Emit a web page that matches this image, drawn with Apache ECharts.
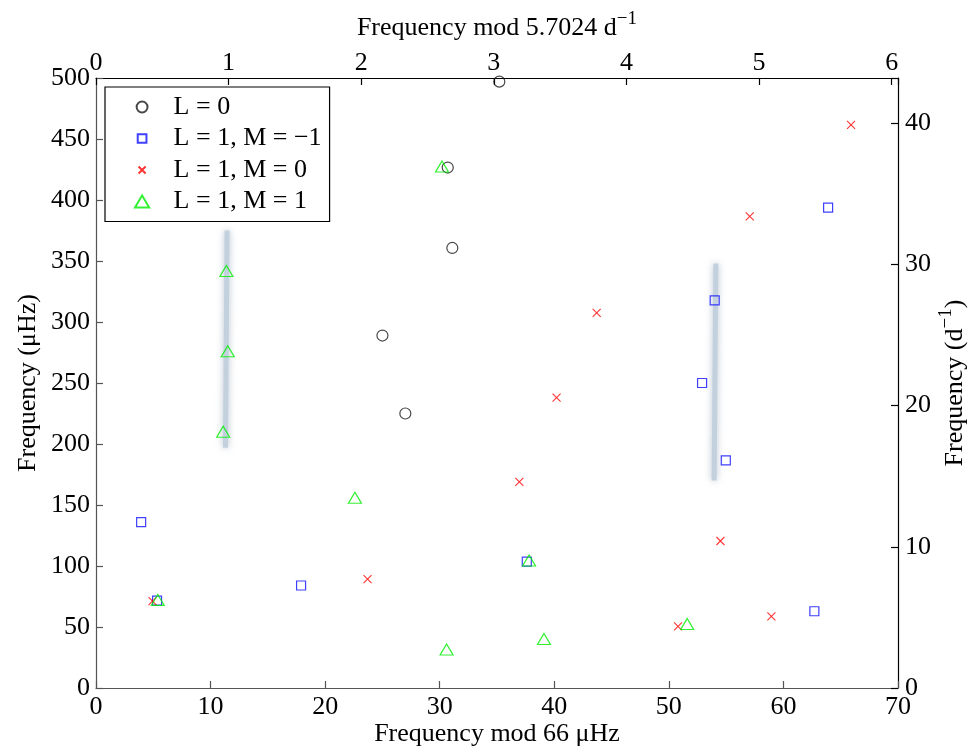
<!DOCTYPE html>
<html>
<head>
<meta charset="utf-8">
<script src="https://cdn.jsdelivr.net/npm/echarts@6/dist/echarts.min.js"></script>
<style>
html,body{margin:0;padding:0;background:#fff;}
#chart{width:976px;height:749px;}
</style>
</head>
<body>
<div id="chart"></div>
<script>
// ---- data ----
const seriesNames = ['L = 0', 'L = 1, M = \u22121', 'L = 1, M = 0', 'L = 1, M = 1'];

const l0_x = [35.2, 30.7, 31.1, 25.0, 27.0];
const l0_y = [497, 426.6, 360.7, 288.9, 225];

const mNeg1_x = [3.94, 5.33, 17.9, 37.6, 54.0, 52.9, 54.97, 62.7, 63.9];
const mNeg1_y = [136, 71.6, 84, 103.6, 317.8, 250, 186.6, 62.9, 393.8];

const m0_x = [4.93, 23.7, 36.95, 40.2, 43.7, 57.06, 65.9, 54.5, 58.95, 50.8];
const m0_y = [71.3, 89.3, 168.9, 238, 307.4, 386.6, 461.5, 120.5, 58.8, 50.6];

const mPos1_x = [5.39, 11.1, 11.5, 11.38, 22.6, 30.2, 37.8, 30.6, 39.1, 51.6];
const mPos1_y = [72.2, 210, 276, 341.8, 156, 427.4, 104.5, 31.5, 40.2, 52.5];

// shaded guide bands (x, y endpoints in µHz)
const band1_x = [11.44, 11.3];
const band1_y = [375, 197];
const band2_x = [54.1, 53.95];
const band2_y = [348, 170];

// axis ranges / ticks
const bottomTicks = [0, 10, 20, 30, 40, 50, 60, 70];
const leftTicks = [0, 50, 100, 150, 200, 250, 300, 350, 400, 450, 500];
const topTicks = [0, 1, 2, 3, 4, 5, 6];
const rightTicks = [0, 10, 20, 30, 40];
const uHzToPerDay = 0.0864;

function zip(xs, ys) { return xs.map((x, i) => [x, ys[i]]); }

const FONT = 'Liberation Serif';
const fs = 26;

const chart = echarts.init(document.getElementById('chart'), null, {renderer: 'canvas'});

function intFmt(ticks) {
  return function (v) {
    for (const t of ticks) { if (Math.abs(v - t) < 1e-6) return String(t); }
    return '';
  };
}

// legend icon shapes (padded so they draw at the reference size)
const iconCircle = 'path://M5,0A5,5,0,1,1,4.99,0Z M-0.5,-0.5 M10.5,10.5';
const iconSquare = 'path://M1,1L9,1L9,9L1,9Z M-0.5,-0.5 M10.5,10.5';
const iconCross = 'path://M2,2L9,9M9,2L2,9 M-0.5,-0.5 M11.5,11.5';
const iconTri = 'path://M6.5,0L13,11L0,11Z';

const supRich = {
  base: {fontFamily: FONT, fontSize: fs, color: '#000', lineHeight: 30},
  sup: {fontFamily: FONT, fontSize: 19, color: '#000', lineHeight: 30, padding: [0, 0, 18, 0]}
};

const option = {
  backgroundColor: '#fff',
  animation: false,
  textStyle: {fontFamily: FONT},
  grid: {left: 96, right: 78, top: 78, bottom: 61, containLabel: false, outerBoundsMode: 'none'},
  legend: {
    data: [
      {name: seriesNames[0], icon: iconCircle},
      {name: seriesNames[1], icon: iconSquare},
      {name: seriesNames[2], icon: iconCross},
      {name: seriesNames[3], icon: iconTri}
    ],
    orient: 'vertical',
    left: 105,
    top: 87,
    padding: [7, 8, 7, 29],
    itemWidth: 53,
    itemHeight: 12,
    itemGap: 5.5,
    borderColor: '#000',
    borderWidth: 1.2,
    backgroundColor: '#fff',
    textStyle: {fontFamily: FONT, fontSize: fs, color: '#000', lineHeight: 26},
    z: 10
  },
  xAxis: [
    {
      type: 'value', position: 'bottom', min: 0, max: 70, interval: 10,
      name: 'Frequency mod 66 \u03bcHz', nameLocation: 'middle', nameGap: 33, nameMoveOverlap: false,
      nameTextStyle: {fontFamily: FONT, fontSize: fs, color: '#000'},
      axisLine: {show: true, onZero: false, lineStyle: {color: '#555', width: 1.2}},
      axisTick: {show: true, inside: true, length: 7, lineStyle: {color: '#555', width: 1.2}},
      axisLabel: {fontFamily: FONT, fontSize: fs, color: '#000', margin: 6, formatter: intFmt(bottomTicks)},
      splitLine: {show: false}
    },
    {
      type: 'value', position: 'top', min: 0, max: 70 * uHzToPerDay, interval: 1,
      name: '{base|Frequency mod 5.7024 d}{sup|\u22121}', nameLocation: 'middle', nameGap: 35, nameMoveOverlap: false,
      nameTextStyle: {fontFamily: FONT, fontSize: fs, color: '#000', rich: supRich},
      axisLine: {show: true, onZero: false, lineStyle: {color: '#000', width: 1.2}},
      axisTick: {show: true, inside: true, length: 7, lineStyle: {color: '#000', width: 1.2}},
      axisLabel: {fontFamily: FONT, fontSize: fs, color: '#000', margin: 2, formatter: intFmt(topTicks)},
      splitLine: {show: false}
    }
  ],
  yAxis: [
    {
      type: 'value', position: 'left', min: 0, max: 500, interval: 50,
      name: 'Frequency (\u03bcHz)', nameLocation: 'middle', nameGap: 55, nameMoveOverlap: false,
      nameTextStyle: {fontFamily: FONT, fontSize: fs, color: '#000'},
      axisLine: {show: true, onZero: false, lineStyle: {color: '#555', width: 1.2}},
      axisTick: {show: true, inside: true, length: 7, lineStyle: {color: '#555', width: 1.2}},
      axisLabel: {fontFamily: FONT, fontSize: fs, color: '#000', margin: 6, formatter: intFmt(leftTicks)},
      splitLine: {show: false}
    },
    {
      type: 'value', position: 'right', min: 0, max: 500 * uHzToPerDay, interval: 10,
      name: '{base|Frequency (d}{sup|\u22121}{base|)}', nameLocation: 'middle', nameGap: 42, nameMoveOverlap: false,
      nameTextStyle: {fontFamily: FONT, fontSize: fs, color: '#000', rich: supRich},
      axisLine: {show: true, onZero: false, lineStyle: {color: '#000', width: 1.2}},
      axisTick: {show: true, inside: true, length: 7, lineStyle: {color: '#000', width: 1.2}},
      axisLabel: {fontFamily: FONT, fontSize: fs, color: '#000', margin: 7, formatter: intFmt(rightTicks)},
      splitLine: {show: false}
    }
  ],
  series: [
    {
      name: 'band1', type: 'line', xAxisIndex: 0, yAxisIndex: 0, data: zip(band1_x, band1_y),
      symbol: 'none', silent: true, z: 1,
      lineStyle: {color: 'rgba(195,208,222,1)', width: 5, shadowBlur: 7, shadowColor: 'rgba(150,165,185,0.7)'}
    },
    {
      name: 'band2', type: 'line', xAxisIndex: 0, yAxisIndex: 0, data: zip(band2_x, band2_y),
      symbol: 'none', silent: true, z: 1,
      lineStyle: {color: 'rgba(195,208,222,1)', width: 5, shadowBlur: 7, shadowColor: 'rgba(150,165,185,0.7)'}
    },
    {
      name: seriesNames[0], type: 'scatter', xAxisIndex: 0, yAxisIndex: 0, data: zip(l0_x, l0_y),
      symbol: 'circle', symbolSize: 11, z: 3,
      itemStyle: {color: 'rgba(0,0,0,0)', borderColor: '#1a1a1a', borderWidth: 1.2}
    },
    {
      name: seriesNames[1], type: 'scatter', xAxisIndex: 0, yAxisIndex: 0, data: zip(mNeg1_x, mNeg1_y),
      symbol: 'rect', symbolSize: 9, z: 3,
      itemStyle: {color: 'rgba(0,0,0,0)', borderColor: '#1010ff', borderWidth: 1.2}
    },
    {
      name: seriesNames[2], type: 'scatter', xAxisIndex: 0, yAxisIndex: 0, data: zip(m0_x, m0_y),
      symbol: 'path://M0,0L10,10M10,0L0,10', symbolSize: 8, z: 3,
      itemStyle: {color: 'rgba(0,0,0,0)', borderColor: '#ff0000', borderWidth: 1.1}
    },
    {
      name: seriesNames[3], type: 'scatter', xAxisIndex: 0, yAxisIndex: 0, data: zip(mPos1_x, mPos1_y),
      symbol: 'triangle', symbolSize: [13, 11], z: 3,
      itemStyle: {color: 'rgba(0,0,0,0)', borderColor: '#00ee00', borderWidth: 1.2}
    }
  ]
};
chart.setOption(option);
</script>
</body>
</html>
